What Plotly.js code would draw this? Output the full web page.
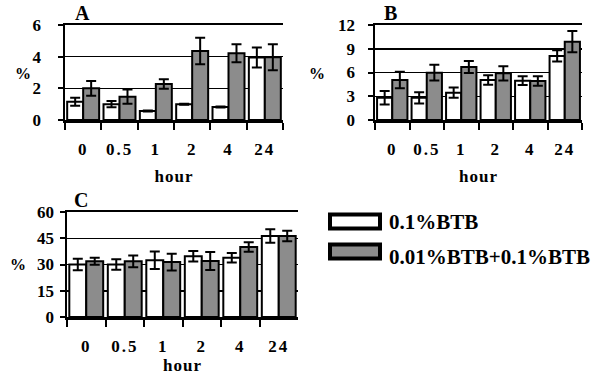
<!DOCTYPE html>
<html>
<head>
<meta charset="utf-8">
<script src="https://cdn.plot.ly/plotly-3.0.1.min.js"></script>
<style>
html,body{margin:0;padding:0;background:#fff;}
#chart{width:593px;height:375px;}
.xtick text, .x2tick text, .x3tick text {letter-spacing:2px;}
text.xtitle, text.x2title, text.x3title {letter-spacing:1px;}
</style>
</head>
<body>
<div id="chart"></div>
<script>
// Categories (hours)
const hours = ['0', '0.5', '1', '2', '4', '24'];
const seriesNames = ['0.1%BTB', '0.01%BTB+0.1%BTB'];

// Panel A
const A_white = [1.15, 1.0, 0.57, 1.0, 0.82, 3.95];
const A_whiteErr = [0.25, 0.2, 0.03, 0.03, 0.03, 0.63];
const A_gray = [2.0, 1.47, 2.27, 4.36, 4.21, 3.96];
const A_grayErr = [0.47, 0.45, 0.3, 0.84, 0.57, 0.82];

// Panel B
const B_white = [2.8, 2.8, 3.45, 5.05, 4.97, 8.1];
const B_whiteErr = [0.85, 0.7, 0.65, 0.6, 0.55, 0.7];
const B_gray = [5.05, 5.98, 6.7, 5.9, 4.93, 9.9];
const B_grayErr = [1.05, 1.0, 0.75, 0.9, 0.6, 1.35];

// Panel C
const C_white = [30, 30, 32.4, 34.7, 33.9, 46.3];
const C_whiteErr = [3.3, 3.0, 5.0, 3.0, 2.7, 3.8];
const C_gray = [31.8, 31.8, 31.4, 32, 40, 46.3];
const C_grayErr = [2.0, 3.4, 4.8, 5.1, 2.7, 3.0];

const W = 593, H = 375;
const WHITE = '#ffffff', GRAY = '#8c8c8c';
const FAMILY = "'Liberation Serif', 'Times New Roman', serif";

function bar(y, err, fill, xa, ya, name) {
  return {
    type: 'bar', x: hours, y: y, name: name, xaxis: xa, yaxis: ya,
    marker: {color: fill, line: {color: '#000', width: 2}},
    error_y: {type: 'data', array: err, visible: true, color: '#000', thickness: 2, width: 5},
    showlegend: false, hoverinfo: 'skip'
  };
}

const data = [
  bar(A_white, A_whiteErr, WHITE, 'x', 'y', seriesNames[0]),
  bar(A_gray, A_grayErr, GRAY, 'x', 'y', seriesNames[1]),
  bar(B_white, B_whiteErr, WHITE, 'x2', 'y2', seriesNames[0]),
  bar(B_gray, B_grayErr, GRAY, 'x2', 'y2', seriesNames[1]),
  bar(C_white, C_whiteErr, WHITE, 'x3', 'y3', seriesNames[0]),
  bar(C_gray, C_grayErr, GRAY, 'x3', 'y3', seriesNames[1])
];

const px = v => v / W;
const py = v => 1 - v / H;

function xax(domain, anchor) {
  return {
    domain: domain, anchor: anchor, type: 'category',
    showline: true, linecolor: '#000', linewidth: 2.5, mirror: true,
    ticks: 'outside', tickson: 'boundaries', ticklen: 7, tickwidth: 2, tickcolor: '#000',
    showgrid: false, zeroline: false, ticklabelstandoff: 12,
    tickfont: {size: 17, family: FAMILY, weight: 'bold'},
    title: {text: 'hour', font: {size: 17, family: FAMILY, weight: 'bold'}, standoff: 12}
  };
}
function yax(domain, anchor, max, dt, standoff) {
  return {
    domain: domain, anchor: anchor, range: [0, max], dtick: dt, tick0: 0,
    showline: true, linecolor: '#000', linewidth: 2.5,
    ticks: 'outside', ticklen: 5, tickwidth: 2, tickcolor: '#000',
    showgrid: true, gridcolor: '#000', gridwidth: 1.5, zeroline: false,
    ticklabelstandoff: standoff, tickfont: {size: 17, family: FAMILY, weight: 'bold'}
  };
}

function ann(text, x, y, size, xanchor, yanchor) {
  return {text: text, x: px(x), y: py(y), xref: 'paper', yref: 'paper',
    xanchor: xanchor, yanchor: yanchor, showarrow: false,
    font: {size: size, family: FAMILY, weight: 'bold'}};
}

const layout = {
  width: W, height: H,
  margin: {l: 0, r: 0, t: 0, b: 0},
  paper_bgcolor: '#fff', plot_bgcolor: '#fff',
  font: {family: FAMILY, size: 17, color: '#000', weight: 'bold'},
  barmode: 'group', bargap: 0.12, bargroupgap: 0,
  showlegend: false,
  xaxis: xax([px(65), px(283)], 'y'),
  yaxis: yax([py(120), py(25)], 'x', 6, 2, 13),
  xaxis2: xax([px(375), px(582)], 'y2'),
  yaxis2: yax([py(120), py(25)], 'x2', 12, 3, 9),
  xaxis3: xax([px(67), px(298)], 'y3'),
  yaxis3: yax([py(317), py(212)], 'x3', 60, 15, 2),
  annotations: [
    ann('A', 83, 26, 20, 'center', 'bottom'),
    ann('B', 390, 26, 20, 'center', 'bottom'),
    ann('C', 81, 213, 20, 'center', 'bottom'),
    ann('%', 23, 73, 16, 'center', 'middle'),
    ann('%', 317, 73, 16, 'center', 'middle'),
    ann('%', 18, 264, 16, 'center', 'middle'),
    ann(seriesNames[0], 387, 222, 21, 'left', 'middle'),
    ann(seriesNames[1], 387, 257, 21, 'left', 'middle')
  ],
  shapes: [
    {type: 'rect', xref: 'paper', yref: 'paper', x0: px(330), x1: px(380), y0: py(214.5), y1: py(228.5), fillcolor: WHITE, line: {color: '#000', width: 4}},
    {type: 'rect', xref: 'paper', yref: 'paper', x0: px(330), x1: px(380), y0: py(244.5), y1: py(258.5), fillcolor: GRAY, line: {color: '#000', width: 4}}
  ]
};

Plotly.newPlot('chart', data, layout, {staticPlot: true, displayModeBar: false});
</script>
</body>
</html>
